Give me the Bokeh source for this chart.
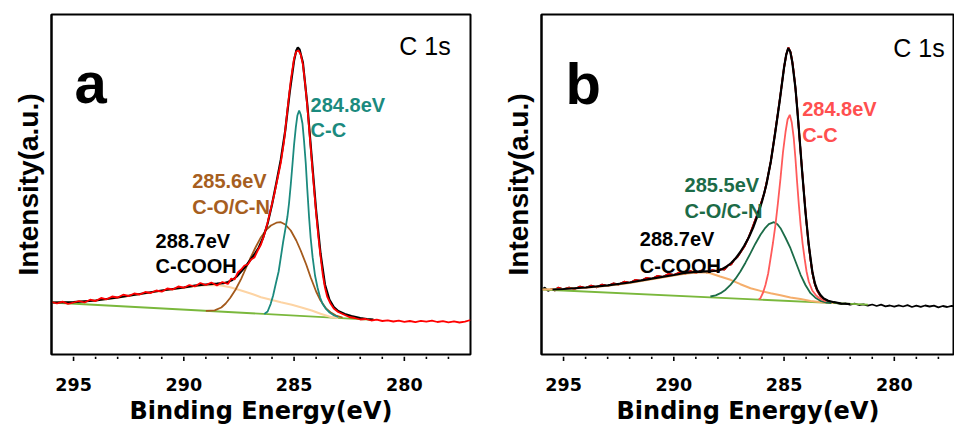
from bokeh.plotting import figure
from bokeh.models import Range1d, FixedTicker, Label
from bokeh.layouts import row, column
from bokeh.core.properties import value
from bokeh.embed import file_html
from bokeh.resources import INLINE

# ---------------- Panel a ----------------
a_raw_e = [296.00, 295.75, 295.50, 295.25, 295.00, 294.75, 294.50, 294.25, 294.00, 293.75,
           293.50, 293.25, 293.00, 292.75, 292.50, 292.25, 292.00, 291.75, 291.50, 291.25,
           291.00, 290.75, 290.50, 290.25, 290.00, 289.75, 289.50, 289.25, 289.00, 288.75,
           288.50, 288.25, 288.00, 287.85, 287.70, 287.55, 287.40, 287.25, 287.10, 286.95,
           286.80, 286.65, 286.50, 286.35, 286.20, 286.05, 285.90, 285.75, 285.60, 285.45,
           285.30, 285.15, 285.00, 284.90, 284.80, 284.70, 284.60, 284.50, 284.40, 284.30,
           284.20, 284.10, 284.00, 283.90, 283.80, 283.70, 283.60, 283.50, 283.35, 283.20,
           283.00, 282.75, 282.50, 282.25, 282.00, 281.75, 281.50, 281.25, 281.00, 280.75,
           280.50, 280.25, 280.00, 279.75, 279.50, 279.25, 279.00, 278.75, 278.50, 278.25,
           278.00, 277.75, 277.50, 277.25, 277.00]
a_raw_i = [52.5, 51.0, 52.8, 50.5, 52.0, 53.5, 52.0, 54.8, 53.5, 56.5,
           55.2, 58.0, 57.0, 59.8, 58.5, 61.0, 60.0, 62.5, 61.5, 64.0,
           62.8, 66.0, 65.0, 68.0, 66.8, 69.5, 68.0, 71.5, 69.5, 72.0,
           69.0, 72.5, 70.5, 76.0, 75.0, 82.0, 85.0, 89.0, 90.0, 95.0,
           97.0, 104.0, 110.0, 120.0, 132.0, 146.0, 160.0, 176.0, 192.0, 214.0,
           245.0, 274.0, 296.0, 303.0, 304.0, 300.0, 290.0, 271.0, 248.0, 221.0,
           194.0, 167.0, 141.0, 118.0, 98.0, 80.0, 67.0, 58.0, 51.0, 46.0,
           42.5, 40.0, 37.5, 36.5, 35.0, 35.5, 34.0, 34.8, 33.5, 34.2,
           33.0, 33.8, 32.6, 33.5, 32.4, 33.6, 32.8, 33.9, 32.5, 33.4,
           32.2, 33.2, 32.0, 32.8, 34.5]

a_fit_e = [296.0, 295.0, 294.0, 293.0, 292.0, 291.0, 290.0, 289.5, 289.0, 288.5,
           288.2, 288.0, 287.8, 287.6, 287.4, 287.2, 287.0, 286.8, 286.6, 286.4,
           286.2, 286.0, 285.8, 285.6, 285.4, 285.2, 285.0, 284.9, 284.83, 284.75,
           284.6, 284.4, 284.2, 284.0, 283.8, 283.6, 283.4, 283.2, 283.0, 282.7,
           282.4, 282.0, 281.7, 281.4]
a_fit_i = [52.0, 52.3, 54.0, 57.0, 60.5, 64.0, 67.0, 68.8, 70.0, 70.8,
           71.3, 72.5, 74.5, 78.0, 83.0, 88.0, 94.0, 100.0, 107.0, 117.0,
           131.0, 150.0, 172.0, 195.0, 224.0, 262.0, 294.0, 304.0, 307.0, 305.0,
           292.0, 250.0, 197.0, 144.0, 101.0, 70.0, 55.0, 47.5, 43.5, 40.5,
           38.5, 36.5, 35.5, 35.0]

a_base_e = [296.0, 281.4]
a_base_i = [52.0, 34.7]

a_cooh_e = [296.0, 295.0, 294.0, 293.0, 292.0, 291.0, 290.0, 289.5, 289.0, 288.7,
            288.3, 287.9, 287.4, 286.9, 286.5, 286.0, 285.6, 285.1, 284.7, 284.2,
            283.8, 283.3, 283.0]
a_cooh_i = [52.0, 52.5, 54.0, 56.8, 60.3, 63.8, 66.8, 68.3, 69.3, 69.6,
            69.0, 67.2, 64.0, 60.5, 57.3, 54.5, 52.3, 49.8, 47.3, 44.0,
            40.7, 37.3, 36.6]

a_co_e = [289.0, 288.6, 288.3, 288.1, 287.9, 287.65, 287.4, 287.2, 287.0, 286.75,
          286.5, 286.25, 286.05, 285.8, 285.6, 285.4, 285.15, 284.9, 284.7, 284.45,
          284.25, 284.0, 283.8, 283.55, 283.35, 283.1, 282.8]
a_co_i = [43.7, 44.2, 47.0, 51.0, 56.5, 65.0, 75.7, 85.5, 95.5, 107.0,
          117.3, 125.0, 129.0, 131.8, 132.3, 130.0, 124.0, 114.0, 104.0, 90.0,
          77.3, 63.0, 54.0, 46.0, 42.3, 39.0, 37.0]

a_cc_e = [286.35, 286.2, 286.06, 285.95, 285.83, 285.7, 285.6, 285.5, 285.38, 285.3,
          285.23, 285.15, 285.07, 285.0, 284.92, 284.85, 284.77, 284.7, 284.62, 284.55,
          284.47, 284.4, 284.32, 284.25, 284.16, 284.05, 283.94, 283.82, 283.71, 283.55,
          283.41, 283.18, 283.0]
a_cc_i = [40.5, 43.0, 50.7, 59.0, 70.7, 83.0, 97.3, 112.0, 127.3, 138.0,
          151.0, 170.0, 191.0, 210.0, 227.3, 239.0, 244.0, 240.0, 231.0, 214.0,
          191.0, 165.0, 137.3, 117.0, 97.3, 79.0, 67.3, 57.0, 50.7, 45.5,
          42.3, 39.0, 37.5]

# ---------------- Panel b ----------------
b_raw_e = [296.00, 295.85, 295.70, 295.55, 295.40, 295.25, 295.00, 294.75, 294.50, 294.25,
           294.00, 293.75, 293.50, 293.25, 293.00, 292.75, 292.50, 292.25, 292.00, 291.75,
           291.50, 291.25, 291.00, 290.75, 290.50, 290.25, 290.00, 289.75, 289.50, 289.25,
           289.00, 288.75, 288.50, 288.25, 288.00, 287.85, 287.70, 287.55, 287.40, 287.25,
           287.10, 286.95, 286.80, 286.65, 286.50, 286.35, 286.20, 286.05, 285.90, 285.75,
           285.60, 285.45, 285.30, 285.15, 285.00, 284.90, 284.80, 284.70, 284.60, 284.50,
           284.40, 284.30, 284.20, 284.10, 284.00, 283.90, 283.80, 283.70, 283.60, 283.50,
           283.35, 283.20, 283.00, 282.80, 282.60, 282.40, 282.20, 282.00, 281.80, 281.60,
           281.40, 281.20, 281.00, 280.80, 280.60, 280.40, 280.20, 280.00, 279.80, 279.60,
           279.40, 279.20, 279.00, 278.80, 278.60, 278.40, 278.20, 278.00, 277.80, 277.60,
           277.40, 277.20]
b_raw_i = [64.5, 67.0, 63.5, 65.5, 64.0, 66.8, 65.2, 67.0, 65.5, 68.0,
           66.5, 68.8, 67.2, 70.0, 68.5, 71.0, 70.0, 72.8, 71.5, 74.5,
           73.5, 76.5, 75.5, 78.5, 77.5, 80.5, 79.5, 82.0, 80.5, 83.5,
           81.5, 84.0, 82.0, 84.5, 83.0, 85.5, 85.0, 89.0, 90.0, 95.0,
           98.0, 103.0, 108.0, 115.0, 123.0, 132.0, 141.0, 151.0, 161.0, 176.0,
           193.0, 215.0, 238.0, 262.0, 287.0, 300.0, 307.0, 302.0, 289.0, 270.0,
           246.0, 217.0, 189.0, 162.0, 136.0, 113.0, 95.0, 80.0, 70.0, 64.0,
           58.5, 55.5, 53.5, 52.0, 51.5, 50.5, 51.0, 49.8, 50.8, 49.5,
           50.2, 48.8, 50.0, 48.5, 49.8, 48.2, 49.0, 47.8, 49.2, 48.0,
           49.3, 47.5, 48.8, 47.6, 49.0, 48.0, 48.8, 47.2, 48.5, 47.5,
           48.6, 48.0]

b_fit_e = [295.5, 295.0, 294.0, 293.0, 292.0, 291.0, 290.0, 289.5, 289.0, 288.5,
           288.2, 288.0, 287.8, 287.6, 287.4, 287.2, 287.0, 286.8, 286.6, 286.4,
           286.2, 286.0, 285.8, 285.6, 285.4, 285.2, 285.0, 284.9, 284.81, 284.72,
           284.63, 284.48, 284.33, 284.18, 284.03, 283.88, 283.72, 283.6, 283.5, 283.35,
           283.2, 283.0, 282.74, 282.4, 282.0]
b_fit_i = [65.0, 65.5, 67.0, 69.2, 72.0, 75.8, 79.5, 81.5, 82.6, 83.2,
           83.5, 84.0, 85.5, 88.0, 91.5, 96.0, 102.0, 109.0, 117.0, 127.0,
           139.0, 153.0, 170.0, 193.0, 222.0, 253.0, 287.0, 300.0, 306.3, 303.0,
           293.0, 266.0, 226.0, 183.0, 143.0, 110.0, 83.0, 71.0, 65.0, 59.5,
           56.0, 53.8, 52.3, 51.0, 50.3]

b_base_e = [296.0, 281.2]
b_base_i = [65.0, 49.8]

b_cooh_e = [296.0, 295.0, 294.0, 293.0, 292.0, 291.0, 290.0, 289.5, 289.0, 288.6,
            288.34, 287.9, 287.43, 286.98, 286.52, 286.07, 285.61, 285.16, 284.71, 284.25,
            283.8, 283.4, 283.04, 282.76]
b_cooh_i = [65.0, 65.5, 66.8, 68.8, 71.6, 75.3, 79.0, 80.8, 81.9, 82.2,
            81.3, 78.0, 74.7, 70.3, 66.3, 63.6, 61.3, 59.2, 57.0, 55.5,
            53.5, 52.4, 51.8, 51.4]

b_co_e = [288.34, 288.1, 287.88, 287.65, 287.43, 287.2, 286.98, 286.75, 286.52, 286.3,
          286.07, 285.88, 285.69, 285.46, 285.3, 285.16, 284.94, 284.71, 284.48, 284.25,
          284.03, 283.8, 283.58, 283.35, 283.1, 282.85]
b_co_i = [58.0, 59.2, 61.3, 64.8, 69.7, 75.8, 83.0, 91.8, 101.3, 110.8,
          119.7, 125.8, 130.3, 132.3, 130.3, 126.3, 117.0, 106.3, 93.0, 79.7,
          69.5, 61.3, 56.8, 53.7, 52.0, 51.3]

b_cc_e = [286.15, 286.07, 285.95, 285.84, 285.72, 285.61, 285.5, 285.39, 285.28, 285.16,
          285.05, 284.93, 284.84, 284.74, 284.65, 284.56, 284.48, 284.41, 284.33, 284.25,
          284.16, 284.07, 283.98, 283.88, 283.72, 283.57, 283.42, 283.27, 283.1]
b_cc_i = [55.0, 56.3, 62.0, 69.7, 81.0, 96.3, 112.0, 129.7, 151.0, 176.3,
          202.0, 223.0, 235.0, 239.7, 232.0, 216.3, 195.0, 173.0, 150.0, 129.7,
          111.0, 96.3, 83.0, 73.0, 64.0, 59.7, 56.5, 54.7, 53.0]

b_fit_lo, b_fit_hi = 295.6, 282.8   # energy window of the red (fitted) data in panel b

x_tick_values = [295, 290, 285, 280]
x_tick_labels = ["295", "290", "285", "280"]
x_minor_values = [294, 293, 292, 291, 289, 288, 287, 286, 284, 283, 282, 281, 279, 278]
x_label = "Binding Energy(eV)"
y_label = "Intensity(a.u.)"

BOLD = "Liberation Sans"
WIDE = "DejaVu Sans"


def make_panel(x_end, left_border, right_border):
    xr = Range1d(296, x_end)
    p = figure(width=477, height=356, x_range=xr, y_range=Range1d(0, 340),
               output_backend="svg", toolbar_location=None,
               min_border_left=left_border, min_border_right=right_border,
               min_border_top=14, min_border_bottom=2)
    p.xgrid.visible = False
    p.ygrid.visible = False
    p.xaxis.visible = False
    p.outline_line_color = "black"
    p.outline_line_width = 2
    p.background_fill_color = "white"
    p.border_fill_color = "white"

    ya = p.yaxis[0]
    ya.ticker = FixedTicker(ticks=[])
    ya.axis_line_width = 2
    ya.major_tick_line_color = None
    ya.minor_tick_line_color = None
    ya.axis_label = y_label
    ya.axis_label_text_font = BOLD
    ya.axis_label_text_font_style = "bold"
    ya.axis_label_text_font_size = "28px"
    ya.axis_label_text_color = "black"
    ya.axis_label_standoff = 8

    # strip below the frame, on the same x scale: ticks, bold tick numbers, axis title
    s = figure(width=477, height=76, x_range=xr, y_range=Range1d(0, 36),
               output_backend="svg", toolbar_location=None,
               min_border_left=left_border, min_border_right=right_border,
               min_border_top=0, min_border_bottom=40)
    s.xgrid.visible = False
    s.ygrid.visible = False
    s.outline_line_color = None
    s.background_fill_color = "white"
    s.border_fill_color = "white"
    s.yaxis.visible = False
    sa = s.xaxis[0]
    sa.ticker = FixedTicker(ticks=[])
    sa.axis_line_color = None
    sa.major_tick_line_color = None
    sa.minor_tick_line_color = None
    sa.major_label_standoff = 0
    sa.axis_label = x_label
    sa.axis_label_text_font = WIDE
    sa.axis_label_text_font_style = "bold"
    sa.axis_label_text_font_size = "24px"
    sa.axis_label_text_color = "black"
    sa.axis_label_standoff = 4

    s.segment(x0=x_tick_values, y0=[36] * len(x_tick_values),
              x1=x_tick_values, y1=[31.5] * len(x_tick_values),
              line_color="black", line_width=1.6)
    s.segment(x0=x_minor_values, y0=[36] * len(x_minor_values),
              x1=x_minor_values, y1=[33.5] * len(x_minor_values),
              line_color="black", line_width=1.6)
    s.text(x=x_tick_values, y=[8.5] * len(x_tick_values), text=x_tick_labels,
           text_font=value(WIDE), text_font_style="bold", text_font_size="17.5px",
           text_color="black", text_align="center", text_baseline="alphabetic")
    return p, s


def add_label(p, x, y, text, color, size="20px", style="bold", align="left"):
    p.add_layout(Label(x=x, y=y, text=text, text_color=color, text_font=BOLD,
                       text_font_style=style, text_font_size=size,
                       text_align=align, text_baseline="alphabetic"))


# ---------------- Panel a ----------------
pa, sa_strip = make_panel(277.0, 51, 7)
pa.line(a_base_e, a_base_i, line_color="#7ab83c", line_width=1.8)
pa.line(a_cooh_e, a_cooh_i, line_color="#fdd4a4", line_width=2)
pa.line(a_co_e, a_co_i, line_color="#a45a1c", line_width=1.8)
pa.line(a_cc_e, a_cc_i, line_color="#1b8a7e", line_width=1.8)
pa.line(a_fit_e, a_fit_i, line_color="black", line_width=2.2)
pa.line(a_raw_e, a_raw_i, line_color="#ff0000", line_width=1.8)

add_label(pa, 294.96, 272.3, "a", "black", size="58px")
add_label(pa, 279.06, 309, "C 1s", "black", size="25px", style="normal", align="center")
add_label(pa, 284.25, 250, "284.8eV", "#1b8a7e")
add_label(pa, 284.25, 225, "C-C", "#1b8a7e")
add_label(pa, 289.62, 174, "285.6eV", "#a65e20")
add_label(pa, 289.62, 148, "C-O/C-N", "#a65e20")
add_label(pa, 291.28, 114, "288.7eV", "black")
add_label(pa, 291.28, 89, "C-COOH", "black")

# ---------------- Panel b ----------------
pb, sb_strip = make_panel(277.27, 64, 0)
b_red_e = [e for e in b_raw_e if b_fit_hi <= e <= b_fit_lo]
b_red_i = [v for e, v in zip(b_raw_e, b_raw_i) if b_fit_hi <= e <= b_fit_lo]
pb.line(b_raw_e, b_raw_i, line_color="black", line_width=1.8)
pb.line(b_red_e, b_red_i, line_color="#ff0000", line_width=1.8)
pb.line(b_base_e, b_base_i, line_color="#7ab83c", line_width=1.8)
pb.line(b_cooh_e, b_cooh_i, line_color="#f5ae6c", line_width=2)
pb.line(b_co_e, b_co_i, line_color="#1c6c48", line_width=1.8)
pb.line(b_cc_e, b_cc_i, line_color="#ff5a5a", line_width=1.8)
pb.line(b_fit_e, b_fit_i, line_color="black", line_width=2.2)

add_label(pb, 294.91, 271.3, "b", "black", size="58px")
add_label(pb, 278.88, 306.3, "C 1s", "black", size="25px", style="normal", align="center")
add_label(pb, 284.18, 245.7, "284.8eV", "#ff4f4f")
add_label(pb, 284.18, 219.7, "C-C", "#ff4f4f")
add_label(pb, 289.51, 169.7, "285.5eV", "#1c6b47")
add_label(pb, 289.51, 143.7, "C-O/C-N", "#1c6b47")
add_label(pb, 291.54, 115.7, "288.7eV", "black")
add_label(pb, 291.54, 89, "C-COOH", "black")

layout = row(column(pa, sa_strip), column(pb, sb_strip))
open("out.html", "w").write(file_html(layout, INLINE))
